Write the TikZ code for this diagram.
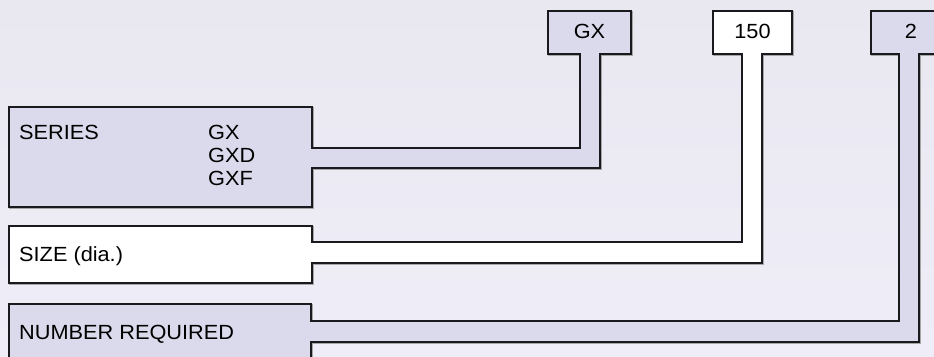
\documentclass[tikz,border=0pt]{standalone}
\usepackage{fontspec}
\setmainfont{Liberation Sans}[FakeStretch=1.06]
\definecolor{bgtop}{RGB}{233,232,241}
\definecolor{bgbot}{RGB}{239,238,248}
\definecolor{boxfill}{RGB}{219,218,236}
\definecolor{edge}{RGB}{25,25,30}
\tikzset{
  shapeline/.style={draw=edge, line width=1.2pt, line join=miter},
  shadowline/.style={draw=black!35, line width=1.3pt, line join=miter},
  lbl/.style={inner sep=0pt, font=\fontsize{20.5}{22}\selectfont, text=black},
}
\begin{document}
\begin{tikzpicture}[x=1pt,y=-1pt]
\useasboundingbox (0,0) rectangle (934,356);
\shade[top color=bgtop, bottom color=bgbot] (0,0) rectangle (934,356);
\clip (0,0) rectangle (934,356);
\def\seriespath{(9,107) -- (312,107) -- (312,148) -- (580,148) -- (580,54) -- (548,54) -- (548,11) -- (631,11) -- (631,54) -- (600,54) -- (600,168) -- (312,168) -- (312,207) -- (9,207) -- cycle}
\def\sizepath{(9,226) -- (312,226) -- (312,242) -- (742,242) -- (742,54) -- (713,54) -- (713,11) -- (792,11) -- (792,54) -- (762,54) -- (762,263) -- (312,263) -- (312,283) -- (9,283) -- cycle}
\def\numpath{(9,304) -- (311,304) -- (311,321) -- (899,321) -- (899,54) -- (871,54) -- (871,11) -- (951,11) -- (951,54) -- (919,54) -- (919,342) -- (311,342) -- (311,366) -- (9,366) -- cycle}
\begin{scope}[shift={(1,1)}]
\draw[shadowline] \seriespath;
\draw[shadowline] \sizepath;
\draw[shadowline] \numpath;
\end{scope}
\filldraw[shapeline, fill=boxfill] \seriespath;
\filldraw[shapeline, fill=white] \sizepath;
\filldraw[shapeline, fill=boxfill] \numpath;
% texts
\node[lbl, anchor=base west] (series) at (19,139) {SERIES};
\node[lbl, anchor=base west] (sgx) at (208,139) {GX};
\node[lbl, anchor=base west] (sgxd) at (208,162) {GXD};
\node[lbl, anchor=base west] (sgxf) at (208,185) {GXF};
\node[lbl, anchor=base west] (size) at (19,261) {SIZE (dia.)};
\node[lbl, anchor=base west] (number) at (19,339) {NUMBER REQUIRED};
\node[lbl, anchor=base] (tgx) at (589.5,38) {GX};
\node[lbl, anchor=base] (t150) at (752.5,38) {150};
\node[lbl, anchor=base] (t2) at (911,38) {2};
\end{tikzpicture}
\end{document}
